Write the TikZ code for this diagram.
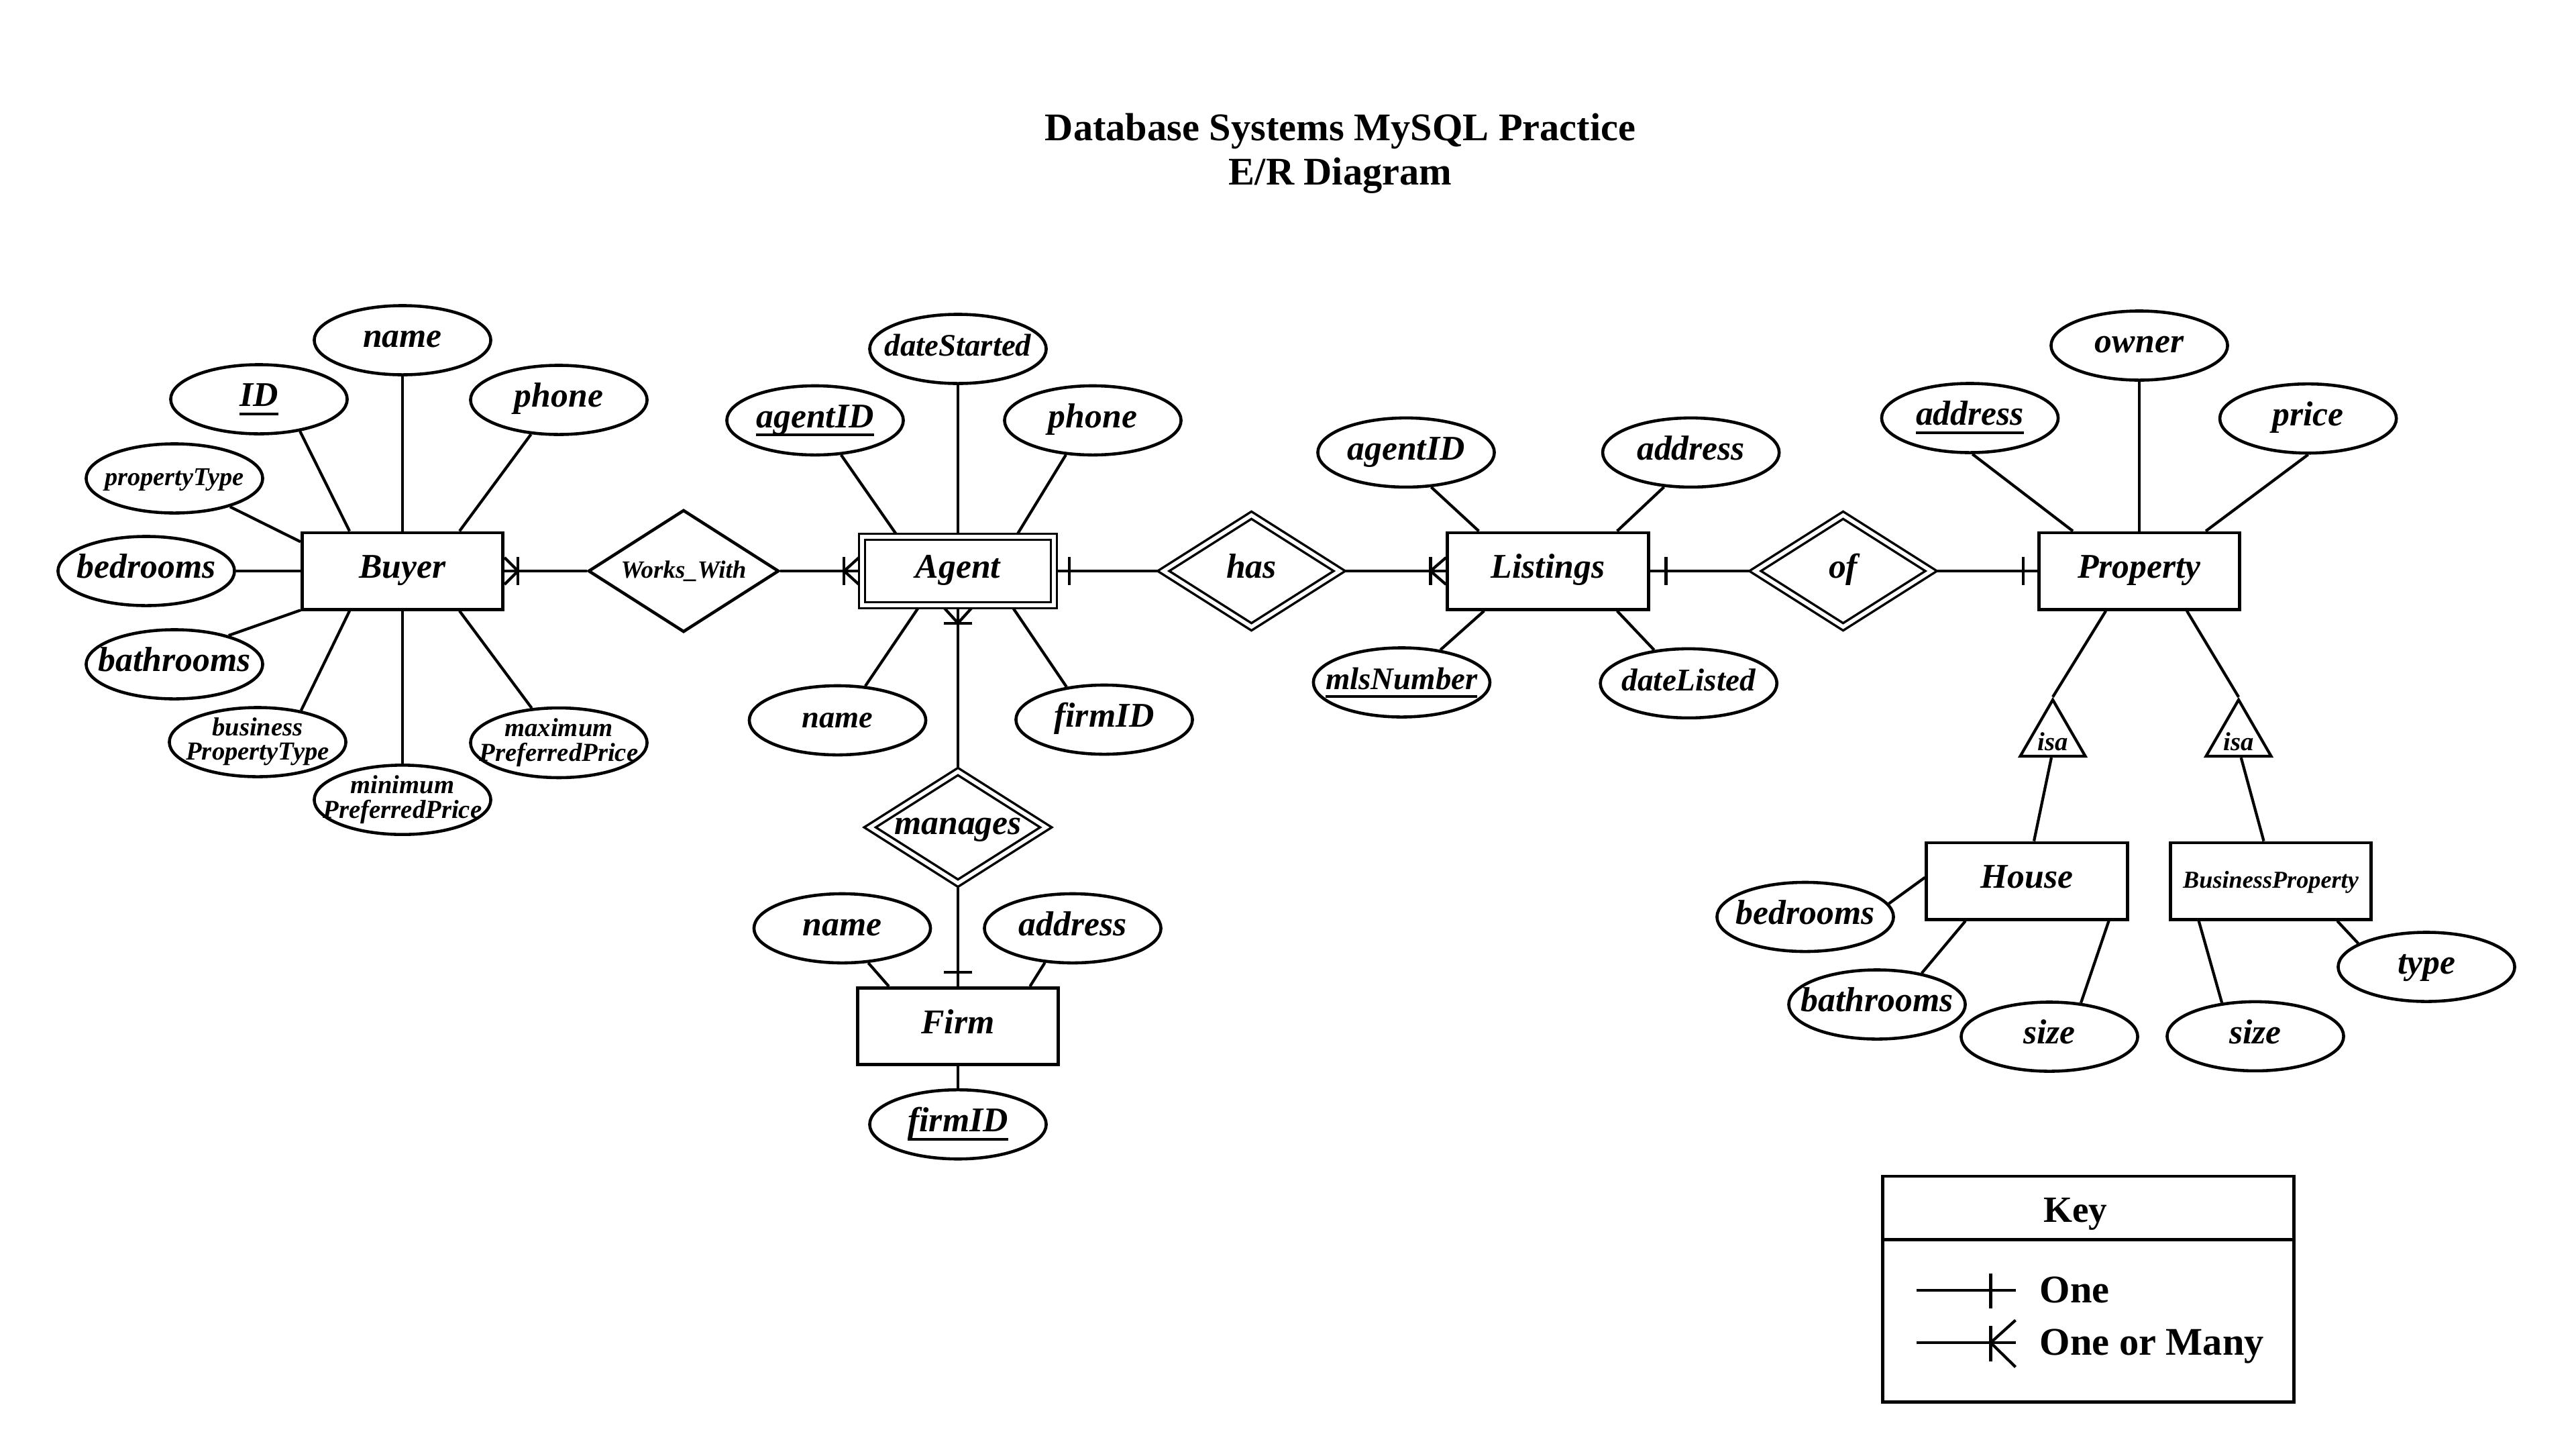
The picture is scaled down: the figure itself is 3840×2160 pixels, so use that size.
\documentclass[tikz,border=0pt]{standalone}
\usepackage{fontspec}
\setmainfont{Liberation Serif}
\usetikzlibrary{shapes.geometric,calc}
\newcommand\fs[1]{\fontsize{#1}{#1}\selectfont}
\newcommand\zb[1]{\makebox[0pt]{#1}}
\newcommand\twol[2]{\makebox[0pt]{\begin{tabular}{@{}c@{}}#1\\#2\end{tabular}}}
\newcommand\keyattr[1]{\setbox0\hbox{#1}\rlap{\rule[-0.25em]{\wd0}{1.1pt}}\box0}
\newcommand\manyH[2]{\draw[conn] ($(#1)+(0,-20)$) -- ($(#1)+(#2,0)$) -- ($(#1)+(0,20)$);
  \draw[conn] ($(#1)+(#2,-21)$) -- ($(#1)+(#2,21)$);}
\newcommand\manyV[2]{\draw[conn] ($(#1)+(-20,0)$) -- ($(#1)+(0,#2)$) -- ($(#1)+(20,0)$);
  \draw[conn] ($(#1)+(-21,#2)$) -- ($(#1)+(21,#2)$);}
\newcommand\oneH[2]{\draw[conn] ($(#1)+(#2,-21)$) -- ($(#1)+(#2,21)$);}
\newcommand\oneV[2]{\draw[conn] ($(#1)+(-21,#2)$) -- ($(#1)+(21,#2)$);}
\begin{document}
\begin{tikzpicture}[x=0.01cm,y=-0.01cm,
  conn/.style={line width=1.2pt},
  txt/.style={text height=9.5pt, text depth=3.3pt},
  attrbase/.style={draw, ellipse, line width=1.3pt, minimum width=2.63cm, minimum height=1.03cm, inner sep=0pt, font=\bfseries\itshape\fs{14.7}},
  attr/.style={attrbase, txt},
  ent/.style={draw, rectangle, line width=1.4pt, minimum width=2.99cm, minimum height=1.14cm, inner sep=0pt, txt, font=\bfseries\itshape\fs{14.7}},
  wkent/.style={ent, double, double distance=1.6pt, line width=1pt, minimum width=2.86cm, minimum height=1.02cm, outer sep=1.3pt},
  rel/.style={draw, diamond, aspect=1.56, line width=1.3pt, minimum width=2.84cm, minimum height=1.82cm, inner sep=0pt, txt, font=\bfseries\itshape\fs{14.7}},
  wkrel/.style={rel, double, double distance=1.6pt, line width=1pt, minimum width=2.66cm, minimum height=1.70cm, outer sep=1.3pt},
  isatri/.style={draw, regular polygon, regular polygon sides=3, minimum size=1.12cm, inner sep=0pt, line width=1.2pt},
  isatext/.style={inner sep=0pt, font=\bfseries\itshape\fs{11}},
  titletext/.style={inner sep=0pt, font=\bfseries\fs{16.6}},
  keybox/.style={draw, rectangle, line width=1.4pt, minimum width=6.13cm, inner sep=0pt},
  keytext/.style={inner sep=0pt, font=\bfseries\fs{16.6}}
]
\useasboundingbox (0,0) rectangle (3840,2160);
\fill[white] (0,0) rectangle (3840,2160);

% Title
\node[titletext, anchor=base] (title1) at (1998,209) {Database Systems MySQL Practice};
\node[titletext, anchor=base] (title2) at (1998,275) {E/R Diagram};

% Buyer
\node[ent] (buyer) at (600,851) {Buyer};
\node[attr] (bname) at (600,507) {\zb{name}};
\node[attr] (bID) at (386,595) {\zb{\keyattr{ID}}};
\node[attr] (bphone) at (833,596) {\zb{phone}};
\node[attr, font=\bfseries\itshape\fs{10.9}] (bproptype) at (260,713) {\zb{propertyType}};
\node[attr] (bbed) at (218,851) {\zb{bedrooms}};
\node[attr] (bbath) at (260,990) {\zb{bathrooms}};
\node[attrbase, font=\bfseries\itshape\fontsize{11}{9.6}\selectfont] (bbpt) at (384,1106) {\twol{business}{PropertyType}};
\node[attrbase, font=\bfseries\itshape\fontsize{11}{9}\selectfont] (bmin) at (600,1192) {\twol{minimum}{PreferredPrice}};
\node[attrbase, font=\bfseries\itshape\fontsize{11}{9.2}\selectfont] (bmax) at (833,1107) {\twol{maximum}{PreferredPrice}};

% Works_With
\node[rel, font=\bfseries\itshape\fs{10.5}] (ww) at (1019,851) {Works\_With};

% Agent
\node[wkent] (agent) at (1428,851) {Agent};
\node[attr, font=\bfseries\itshape\fs{13.3}] (adate) at (1428,520) {\zb{dateStarted}};
\node[attr] (aid) at (1215,626.5) {\zb{\keyattr{agentID}}};
\node[attr] (aphone) at (1629,626.5) {\zb{phone}};
\node[attr, font=\bfseries\itshape\fs{13.2}] (aname) at (1248.5,1073.5) {\zb{name}};
\node[attr] (afirm) at (1646,1072.5) {\zb{firmID}};

% manages / Firm
\node[wkrel] (manages) at (1428,1233) {manages};
\node[ent] (firm) at (1428,1529.5) {Firm};
\node[attr] (fname) at (1255.5,1383.5) {\zb{name}};
\node[attr] (faddr) at (1599,1383.5) {\zb{address}};
\node[attr] (ffid) at (1428,1675.7) {\zb{\keyattr{firmID}}};

% has / Listings
\node[wkrel] (has) at (1865.5,851) {has};
\node[ent] (listings) at (2307.5,851) {Listings};
\node[attr] (lagent) at (2096,674.4) {\zb{agentID}};
\node[attr] (laddr) at (2520.6,674.4) {\zb{address}};
\node[attr, font=\bfseries\itshape\fs{13.3}] (lmls) at (2089.4,1017) {\zb{\keyattr{mlsNumber}}};
\node[attr, font=\bfseries\itshape\fs{13.4}] (ldate) at (2517.2,1018.4) {\zb{dateListed}};

% of / Property
\node[wkrel] (of) at (2747.5,851) {of};
\node[ent] (property) at (3189,851) {Property};
\node[attr] (paddr) at (2936.5,623) {\zb{\keyattr{address}}};
\node[attr] (powner) at (3189,515) {\zb{owner}};
\node[attr] (pprice) at (3440.6,623.7) {\zb{price}};

% isa
\node[isatri] (isaL) at (3060,1099) {};
\node[isatext] (isaLt) at ($(isaL)+(0,6)$) {isa};
\node[isatri] (isaR) at (3337,1099) {};
\node[isatext] (isaRt) at ($(isaR)+(0,6)$) {isa};

% House / BusinessProperty
\node[ent] (house) at (3021.5,1313) {House};
\node[ent, font=\bfseries\itshape\fs{10.3}] (bprop) at (3385,1313) {BusinessProperty};
\node[attr] (hbed) at (2691,1366.5) {\zb{bedrooms}};
\node[attr] (hbath) at (2798,1497) {\zb{bathrooms}};
\node[attr] (hsize) at (3055,1545) {\zb{size}};
\node[attr] (bpsize) at (3362,1544.4) {\zb{size}};
\node[attr] (bptype) at (3617,1441) {\zb{type}};

% Buyer connectors
\draw[conn] (bID.-38.7) -- (buyer.143.6);
\draw[conn] (bname) -- (buyer);
\draw[conn] (bphone.-129.7) -- (buyer.35);
\draw[conn] (bproptype.-27.5) -- (buyer.164.4);
\draw[conn] (bbed) -- (buyer);
\draw[conn] (bbath.28.5) -- (buyer.-159.1);
\draw[conn] (bbpt.36.9) -- (buyer.-143.6);
\draw[conn] (bmin) -- (buyer);
\draw[conn] (bmax.128.5) -- (buyer.-35.3);

% main row
\draw[conn] (buyer) -- (ww);
\manyH{buyer.east}{20}
\draw[conn] (ww) -- (agent);
\manyH{agent.west}{-22}
\draw[conn] (agent) -- (has);
\oneH{agent.east}{18}
\draw[conn] (has) -- (listings);
\manyH{listings.west}{-23}
\draw[conn] (listings) -- (of);
\oneH{listings.east}{24}
\draw[conn] (of) -- (property);
\oneH{property.west}{-21}

% Agent vertical
\draw[conn] (agent) -- (manages);
\manyV{agent.south}{22}
\draw[conn] (manages) -- (firm);
\oneV{firm.north}{-21}

% Agent attributes
\draw[conn] (aid.-53) -- (agent.149.8);
\draw[conn] (adate) -- (agent);
\draw[conn] (aphone.-128) -- (agent.32.6);
\draw[conn] (aname.51.6) -- (agent.-137.4);
\draw[conn] (afirm.139.8) -- (agent.-34.5);

% Firm attributes
\draw[conn] (fname.-53.4) -- (firm.150.8);
\draw[conn] (faddr.-129.4) -- (firm.29);
\draw[conn] (firm) -- (ffid);

% Listings attributes
\draw[conn] (lagent.-54.4) -- (listings.150.4);
\draw[conn] (laddr.-128.2) -- (listings.30.3);
\draw[conn] (lmls.40.6) -- (listings.-148.9);
\draw[conn] (ldate.136.8) -- (listings.-30.7);

% Property attributes
\draw[conn] (paddr.-86) -- (property.149.3);
\draw[conn] (powner) -- (property);
\draw[conn] (pprice.-90) -- (property.31.5);
\draw[conn] (property.-130.3) -- (isaL.corner 1);
\draw[conn] (property.-40.3) -- (isaR.corner 1);
\draw[conn] (isaL.-94) -- (house.80.8);
\draw[conn] (isaR.-83.4) -- (bprop.100);

% House / BP attributes
\draw[conn] (hbed.9.2) -- (house.178.4);
\draw[conn] (hbath.35.1) -- (house.-147.9);
\draw[conn] (hsize.47.1) -- (house.-26.7);
\draw[conn] (bpsize.135) -- (bprop.-151.7);
\draw[conn] (bptype.161.3) -- (bprop.-31.6);

% Key
\node[keybox, minimum height=0.94cm] (keyhead) at (3113,1800) {};
\node[keybox, minimum height=2.42cm] (keybody) at (3113,1968) {};
\node[keytext, font=\bfseries\fs{15.7}, anchor=base] (keylabel) at (3094,1821) {Key};
\node[keytext, anchor=base west] (onelabel) at (3040,1941) {One};
\node[keytext, anchor=base west] (manylabel) at (3040,2019) {One or Many};
\coordinate (k1a) at (2857,1923);
\coordinate (k1b) at (3004.5,1923);
\draw[conn] (k1a) -- (k1b);
\draw[conn] (2967.4,1897.7) -- (2967.4,1950.2);
\coordinate (k2a) at (2857,2001);
\coordinate (k2b) at (3004.5,2001);
\draw[conn] (k2a) -- (k2b);
\draw[conn] (2967.4,1976) -- (2967.4,2029);
\draw[conn] (3004.5,1967.5) -- (2967.4,2001) -- (3004.5,2037.3);
\end{tikzpicture}
\end{document}
